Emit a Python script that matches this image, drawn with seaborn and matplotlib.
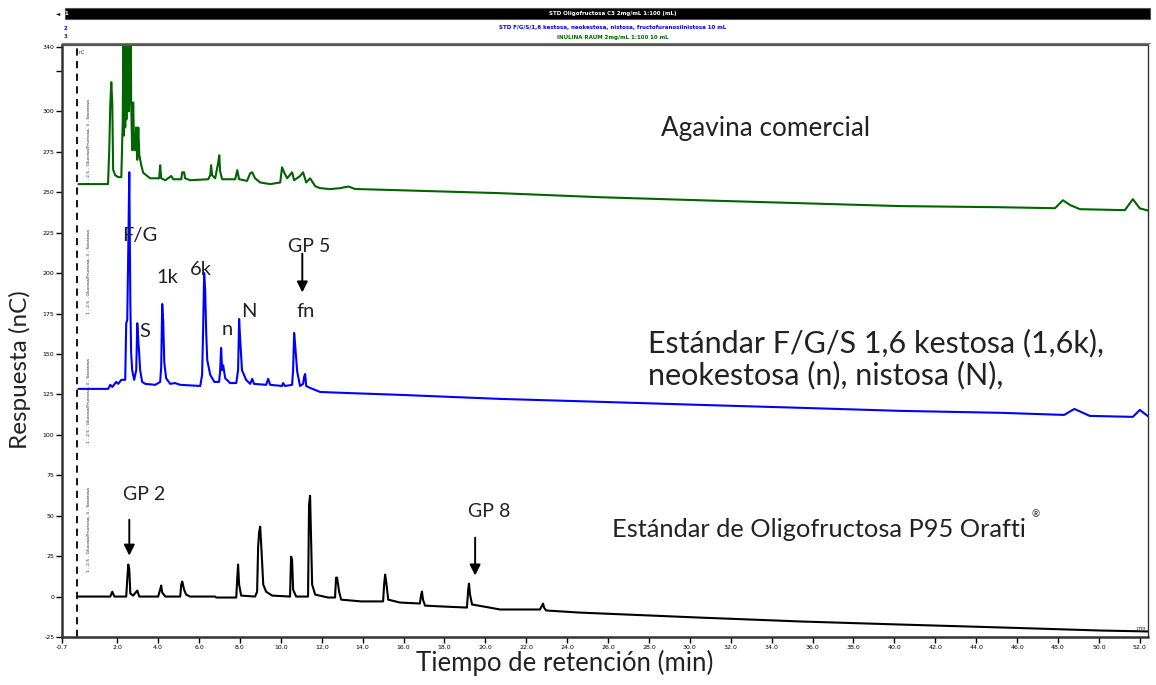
import matplotlib
matplotlib.use("Agg")
import matplotlib.pyplot as plt
import seaborn as sns
import pandas as pd
from matplotlib.patches import Rectangle

# ---------------- data (retention time in min, response in nC) ----------------
green_pts = [
    (0.10, 255), (1.55, 255), (1.61, 276), (1.66, 304), (1.71, 318), (1.76, 304), (1.80, 264),
    (1.90, 260.5), (2.05, 259.3), (2.20, 259.3), (2.27, 294), (2.30, 360), (2.33, 285), (2.36, 360),
    (2.39, 290), (2.42, 360), (2.45, 295), (2.48, 360), (2.51, 300), (2.54, 360), (2.57, 300),
    (2.60, 360), (2.63, 305), (2.66, 360), (2.68, 307), (2.73, 276), (2.78, 305.5), (2.83, 276),
    (2.88, 276), (2.93, 290), (2.98, 270), (3.03, 290), (3.08, 273), (3.17, 267), (3.27, 262),
    (3.47, 260), (3.61, 258.6), (4.05, 258.6), (4.10, 266.7), (4.15, 258.6), (4.35, 257.4),
    (4.64, 260), (4.74, 258), (5.13, 258), (5.18, 262.3), (5.27, 262.3), (5.32, 258.6),
    (5.57, 257.4), (6.45, 258), (6.55, 260.5), (6.59, 266.7), (6.64, 260.5), (6.79, 258.6),
    (6.94, 268.5), (6.99, 272.8), (7.03, 263), (7.13, 258), (7.77, 258), (7.87, 263.6),
    (7.96, 258), (8.35, 257), (8.50, 261.7), (8.60, 262.3), (8.74, 258.6), (8.99, 256),
    (9.48, 255), (9.97, 256), (10.06, 265.4), (10.16, 262.3), (10.31, 258.6), (10.55, 262.3),
    (10.65, 257.4), (10.94, 260), (11.09, 262.3), (11.24, 256), (11.43, 258.6), (11.68, 253.7),
    (11.92, 252.5), (12.41, 251.9), (12.90, 252.5), (13.30, 253.5), (13.63, 252.0), (13.88, 251.9),
    (15.83, 251.2), (20.72, 249.4), (25.6, 246.9), (30.5, 245), (35.4, 243.2), (40.3, 241.4),
    (45.2, 240.7), (47.85, 240.1), (48.24, 245), (48.6, 242), (49.07, 239.5), (51.27, 238.9),
    (51.66, 245.7), (52.0, 240), (52.5, 238.3),
]

blue_pts = [
    (0.10, 128.4), (1.56, 128.4), (1.66, 130.9), (1.76, 129.6), (1.95, 132.7), (2.05, 131.5),
    (2.20, 134), (2.39, 134), (2.44, 169), (2.49, 171), (2.54, 214), (2.59, 262.3), (2.64, 183),
    (2.68, 151), (2.73, 140), (2.83, 134), (2.93, 140), (2.98, 169), (3.03, 158.6), (3.08, 149),
    (3.12, 140), (3.22, 132.7), (3.37, 131.5), (3.86, 130.9), (4.10, 132.7), (4.15, 142),
    (4.20, 180.9), (4.25, 169.8), (4.30, 145), (4.39, 135), (4.59, 131.5), (4.83, 132),
    (5.08, 130.9), (6.06, 130.2), (6.15, 137), (6.20, 164.8), (6.25, 200), (6.30, 189.5),
    (6.35, 163.6), (6.40, 146.3), (6.55, 137), (6.75, 132.7), (6.98, 132.7), (7.03, 138.9),
    (7.08, 153.7), (7.13, 140), (7.18, 143), (7.28, 135), (7.52, 132), (7.82, 132), (7.91, 140),
    (7.96, 171.6), (8.00, 161.7), (8.10, 140), (8.30, 134), (8.50, 131.5), (8.60, 134.6),
    (8.69, 131.5), (9.28, 130.9), (9.38, 134.6), (9.48, 130.9), (10.06, 130.2), (10.11, 132),
    (10.21, 130.2), (10.55, 130.9), (10.60, 140), (10.65, 163), (10.70, 155.6), (10.80, 139),
    (10.94, 130.2), (11.09, 131.5), (11.14, 136), (11.19, 137.6), (11.24, 130.2), (11.43, 129),
    (11.92, 126.5), (12.9, 126), (15.83, 124.7), (20.72, 122.2), (25.6, 120.4), (30.5, 118.5),
    (35.4, 116.7), (40.3, 114.8), (45.2, 113.6), (48.3, 112.3), (48.8, 116), (49.55, 111.7),
    (51.66, 111.1), (52.0, 115.4), (52.5, 110.5),
]

black_pts = [
    (0.10, 0), (1.66, 0), (1.76, 3), (1.86, 0), (2.44, 0), (2.49, 10.5), (2.54, 19.8),
    (2.59, 16.7), (2.64, 1.9), (2.78, 0.6), (2.98, 3.7), (3.08, 0), (4.00, 0), (4.10, 4.3),
    (4.15, 6.8), (4.20, 2.5), (4.35, 0), (5.08, 0), (5.13, 7.4), (5.18, 9.3), (5.27, 4.3),
    (5.37, 1.2), (5.57, 0), (6.79, 0), (6.84, -0.6), (7.82, -0.6), (7.87, 11.7), (7.91, 19.8),
    (7.96, 7.4), (8.06, 0.6), (8.74, 0), (8.84, 3), (8.89, 30.9), (8.94, 40), (8.99, 43.2),
    (9.04, 32), (9.14, 7.4), (9.28, 3), (9.58, 0.6), (10.45, 0), (10.50, 24.7), (10.55, 22.8),
    (10.60, 4.3), (10.75, 0), (11.33, 0), (11.38, 56.8), (11.43, 62.3), (11.48, 35.2),
    (11.53, 7.4), (11.68, 1.2), (12.31, -0.6), (12.65, -0.6), (12.70, 11.7), (12.75, 11.7),
    (12.85, 3), (12.95, -1.9), (13.93, -3), (15.00, -3), (15.05, 7.4), (15.10, 13.6),
    (15.15, 9.3), (15.25, -1.9), (15.83, -3.7), (16.80, -4.3), (16.86, 1.2), (16.90, 3.1),
    (16.95, -1.9), (17.05, -5.6), (18.0, -6.2), (19.10, -6.8), (19.16, 4.3), (19.20, 8),
    (19.25, 1.2), (19.35, -4.9), (20.2, -6.8), (20.72, -8), (22.67, -8), (22.77, -5.6),
    (22.82, -4.3), (22.87, -6.8), (22.97, -8.6), (24.6, -9.9), (30.5, -13), (35.4, -15.4),
    (40.3, -17.3), (45.2, -19.1), (50.1, -21), (52.5, -21.6),
]

trace_names = ["INULINA RAUM", "STD F/G/S", "STD Oligofructosa"]
trace_colors = ["#006400", "#0000ff", "#000000"]

x_ticks = [-0.7] + list(range(2, 53, 2))
x_ticklabels = ["-0.7"] + [f"{v:.1f}" for v in range(2, 53, 2)]
y_ticks = list(range(-25, 326, 25)) + [340]
y_ticklabels = [str(v) for v in range(-25, 301, 25)] + ["", "340"]

header_lines = [
    ("1", "STD Oligofructosa C3 2mg/mL 1:100 (mL)", "white"),
    ("2", "STD F/G/S/1,6 kestosa, neokestosa, nistosa, fructofuranosilnistosa 10 mL", "#0000ff"),
    ("3", "INULINA RAUM 2mg/mL 1:100 10 mL", "#006400"),
]

# ---------------- build frame ----------------
frames = []
for name, pts in zip(trace_names, [green_pts, blue_pts, black_pts]):
    d = pd.DataFrame(pts, columns=["t", "v"])
    d["trace"] = name
    frames.append(d)
df = pd.concat(frames, ignore_index=True)

sns.set_style("white")
plt.rcParams["font.family"] = ["Lato", "DejaVu Sans"]

fig = plt.figure(figsize=(11.56, 6.85), dpi=100)
ax = fig.add_axes([62 / 1156, 1 - 637 / 685, 1086 / 1156, 592 / 685])

sns.lineplot(data=df, x="t", y="v", hue="trace", hue_order=trace_names[::-1],
             palette=dict(zip(trace_names, trace_colors)), estimator=None, sort=False,
             linewidth=1.5, legend=False, ax=ax)

ax.set_xlim(-0.7, 52.4)
ax.set_ylim(-25, 341)

ax.set_xticks(x_ticks)
ax.set_xticklabels(x_ticklabels, fontsize=4.5, family="DejaVu Sans")
ax.set_yticks(y_ticks)
ax.set_yticklabels(y_ticklabels, fontsize=4.5, family="DejaVu Sans")
ax.tick_params(axis="both", direction="out", length=4, width=1, pad=1.5, colors="black",
               bottom=True, left=True)

for side in ["left", "bottom"]:
    ax.spines[side].set_color("#333333")
    ax.spines[side].set_linewidth(1.8)
ax.spines["top"].set_color("#555555")
ax.spines["top"].set_linewidth(1.6)
ax.spines["right"].set_color("#333333")
ax.spines["right"].set_linewidth(1.0)

ax.set_xlabel("Tiempo de retención (min)", fontsize=18.5, color="#222222")
ax.set_ylabel("Respuesta (nC)", fontsize=17.5, color="#222222")
ax.xaxis.label.set_va("center")
ax.yaxis.label.set_va("center")
ax.xaxis.set_label_coords(0.463, -0.043)
ax.yaxis.set_label_coords(-0.0386, 0.451)

# injection marker and peak label column
ax.axvline(0.03, color="black", linestyle=(0, (4, 3)), linewidth=1.3)
for yv in [15, 95, 175, 255]:
    ax.text(0.6, yv, "1 - 2.5 - Glucosa/Fructosa, 3 - Sacarosa", rotation=90, fontsize=3.2,
            color="#222222", ha="center", va="bottom", family="DejaVu Sans")

ax.text(0.12, 338, "nC", fontsize=3.5, va="top", family="DejaVu Sans")
ax.text(52.3, -21, "min", fontsize=3.5, ha="right", va="bottom", family="DejaVu Sans")

# ---------------- annotations ----------------
txt = dict(color="#222222")
ax.text(28.6, 289.5, "Agavina comercial", fontsize=18.8, va="center", ha="left", **txt)
ax.text(3.1, 223.5, "F/G", fontsize=14.5, ha="center", va="center", **txt)
ax.text(3.37, 163.6, "S", fontsize=14.5, ha="center", va="center", **txt)
ax.text(4.45, 197, "1k", fontsize=14.5, ha="center", va="center", **txt)
ax.text(6.1, 202, "6k", fontsize=14.5, ha="center", va="center", **txt)
ax.text(7.4, 165, "n", fontsize=14.5, ha="center", va="center", **txt)
ax.text(8.45, 176, "N", fontsize=14.5, ha="center", va="center", **txt)
ax.text(11.4, 216.7, "GP 5", fontsize=14, ha="center", va="center", **txt)
ax.text(11.2, 176, "fn", fontsize=14.5, ha="center", va="center", **txt)
ax.text(27.95, 156.8, "Estándar F/G/S 1,6 kestosa (1,6k),", fontsize=22, ha="left", va="center", **txt)
ax.text(27.95, 137, "neokestosa (n), nistosa (N),", fontsize=22, ha="left", va="center", **txt)
ax.text(3.3, 63, "GP 2", fontsize=14, ha="center", va="center", **txt)
ax.text(20.2, 52.5, "GP 8", fontsize=14, ha="center", va="center", **txt)
ax.text(26.2, 41.4, "Estándar de Oligofructosa P95 Orafti", fontsize=18.3, ha="left", va="center", **txt)
ax.text(46.7, 50.6, "®", fontsize=7, ha="left", va="center", **txt)

arrow = dict(arrowstyle="-|>", color="black", lw=1.4, mutation_scale=16, shrinkA=0, shrinkB=0)
ax.annotate("", xy=(2.59, 25.3), xytext=(2.59, 47.5), arrowprops=arrow)
ax.annotate("", xy=(19.5, 13), xytext=(19.5, 36.4), arrowprops=arrow)
ax.annotate("", xy=(11.05, 188), xytext=(11.05, 212), arrowprops=arrow)

# ---------------- header (overlay legend) ----------------
fig.add_artist(Rectangle((65 / 1156, 1 - 19 / 685), 1085 / 1156, 11 / 685,
                         transform=fig.transFigure, facecolor="black", edgecolor="#555555", lw=0.8))
header_y = [1 - 13.5 / 685, 1 - 28 / 685, 1 - 37 / 685]
num_colors = ["black", "#0000ff", "#006400"]
for (num, label, col), yy, ncol in zip(header_lines, header_y, num_colors):
    fig.text(613 / 1156, yy, label, fontsize=4, color=col, ha="center", va="center",
             family="DejaVu Sans", fontweight="bold")
    fig.text(66 / 1156, yy, num, fontsize=4, color=ncol if num != "1" else "white",
             ha="center", va="center", family="DejaVu Sans", fontweight="bold")
fig.text(58 / 1156, header_y[0], "◄", fontsize=4, color="black", ha="center", va="center",
         family="DejaVu Sans")
fig.add_artist(plt.Line2D([62 / 1156, 1150 / 1156], [1 - 43 / 685, 1 - 43 / 685],
                          transform=fig.transFigure, color="#777777", lw=0.8))

fig.savefig("out.png", dpi=100)
